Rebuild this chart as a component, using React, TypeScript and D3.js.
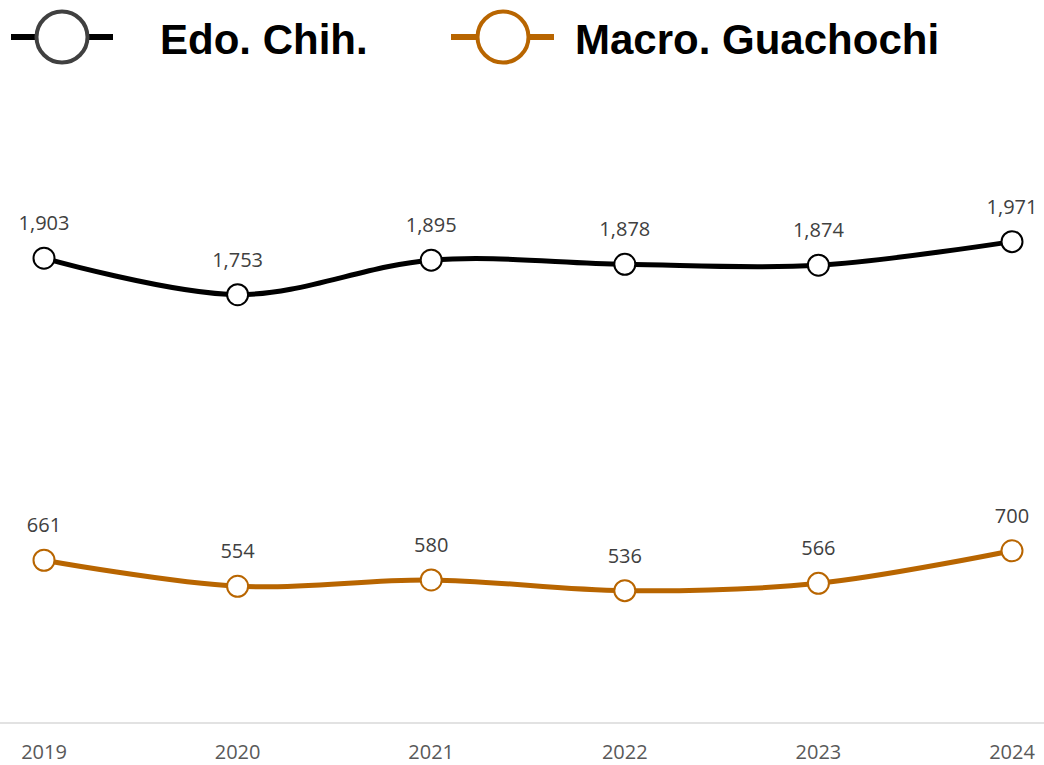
import React from "react";
import * as d3 from "d3";

const years = ["2019", "2020", "2021", "2022", "2023", "2024"];
const edoChih = [1903, 1753, 1895, 1878, 1874, 1971];
const macroGuachochi = [661, 554, 580, 536, 566, 700];
const seriesNames = ["Edo. Chih.", "Macro. Guachochi"];

const W = 1044;
const H = 765;
const ORANGE = "#b86500";
const LABEL_FONT = "'Open Sans', 'Noto Sans', sans-serif";

export default function App() {
  const x = d3.scalePoint<string>().domain(years).range([44, 1012]);
  const y = d3.scaleLinear().domain([0, 2500]).range([721, 113]);
  const line = d3
    .line<number>()
    .x((_, i) => x(years[i]) as number)
    .y((d) => y(d))
    .curve(d3.curveCatmullRom.alpha(0.5));

  const series = [
    { name: seriesNames[0], values: edoChih, color: "#000000", markerStroke: "#000000", legendStroke: "#404040" },
    { name: seriesNames[1], values: macroGuachochi, color: ORANGE, markerStroke: ORANGE, legendStroke: ORANGE },
  ];

  const legend = [
    { x0: 11, x1: 113, cx: 62, tx: 160 },
    { x0: 451, x1: 554, cx: 503, tx: 575 },
  ];

  return (
    <svg
      width={W}
      height={H}
      style={{ position: "absolute", left: 0, top: 0, background: "#fff" }}
    >
      {/* legend */}
      {series.map((s, i) => (
        <g key={"lg" + i}>
          <line x1={legend[i].x0} x2={legend[i].x1} y1={37} y2={37} stroke={s.color} strokeWidth={6} />
          <circle cx={legend[i].cx} cy={37} r={25.5} fill="#fff" stroke={s.legendStroke} strokeWidth={4} />
          <text
            x={legend[i].tx}
            y={54}
            fontFamily="'Liberation Sans', Arial, sans-serif"
            fontWeight="bold"
            fontSize={42}
            fill="#000"
          >
            {s.name}
          </text>
        </g>
      ))}

      {/* axis line */}
      <line x1={0} x2={W} y1={723} y2={723} stroke="#d9d9d9" strokeWidth={1.5} />
      {years.map((yr) => (
        <text
          key={yr}
          x={x(yr)}
          y={759}
          textAnchor="middle"
          fontFamily={LABEL_FONT}
          fontSize={20}
          fill="#595959"
        >
          {yr}
        </text>
      ))}

      {/* series */}
      {series.map((s, si) => (
        <g key={"s" + si}>
          <path d={line(s.values) || ""} fill="none" stroke={s.color} strokeWidth={5} />
          {s.values.map((v, i) => (
            <g key={i}>
              <circle
                cx={x(years[i])}
                cy={y(v)}
                r={10.5}
                fill="#fff"
                stroke={s.markerStroke}
                strokeWidth={2}
              />
              <text
                x={x(years[i])}
                y={y(v) - 28}
                textAnchor="middle"
                fontFamily={LABEL_FONT}
                fontSize={20}
                fill="#404040"
              >
                {d3.format(",")(v)}
              </text>
            </g>
          ))}
        </g>
      ))}
    </svg>
  );
}
